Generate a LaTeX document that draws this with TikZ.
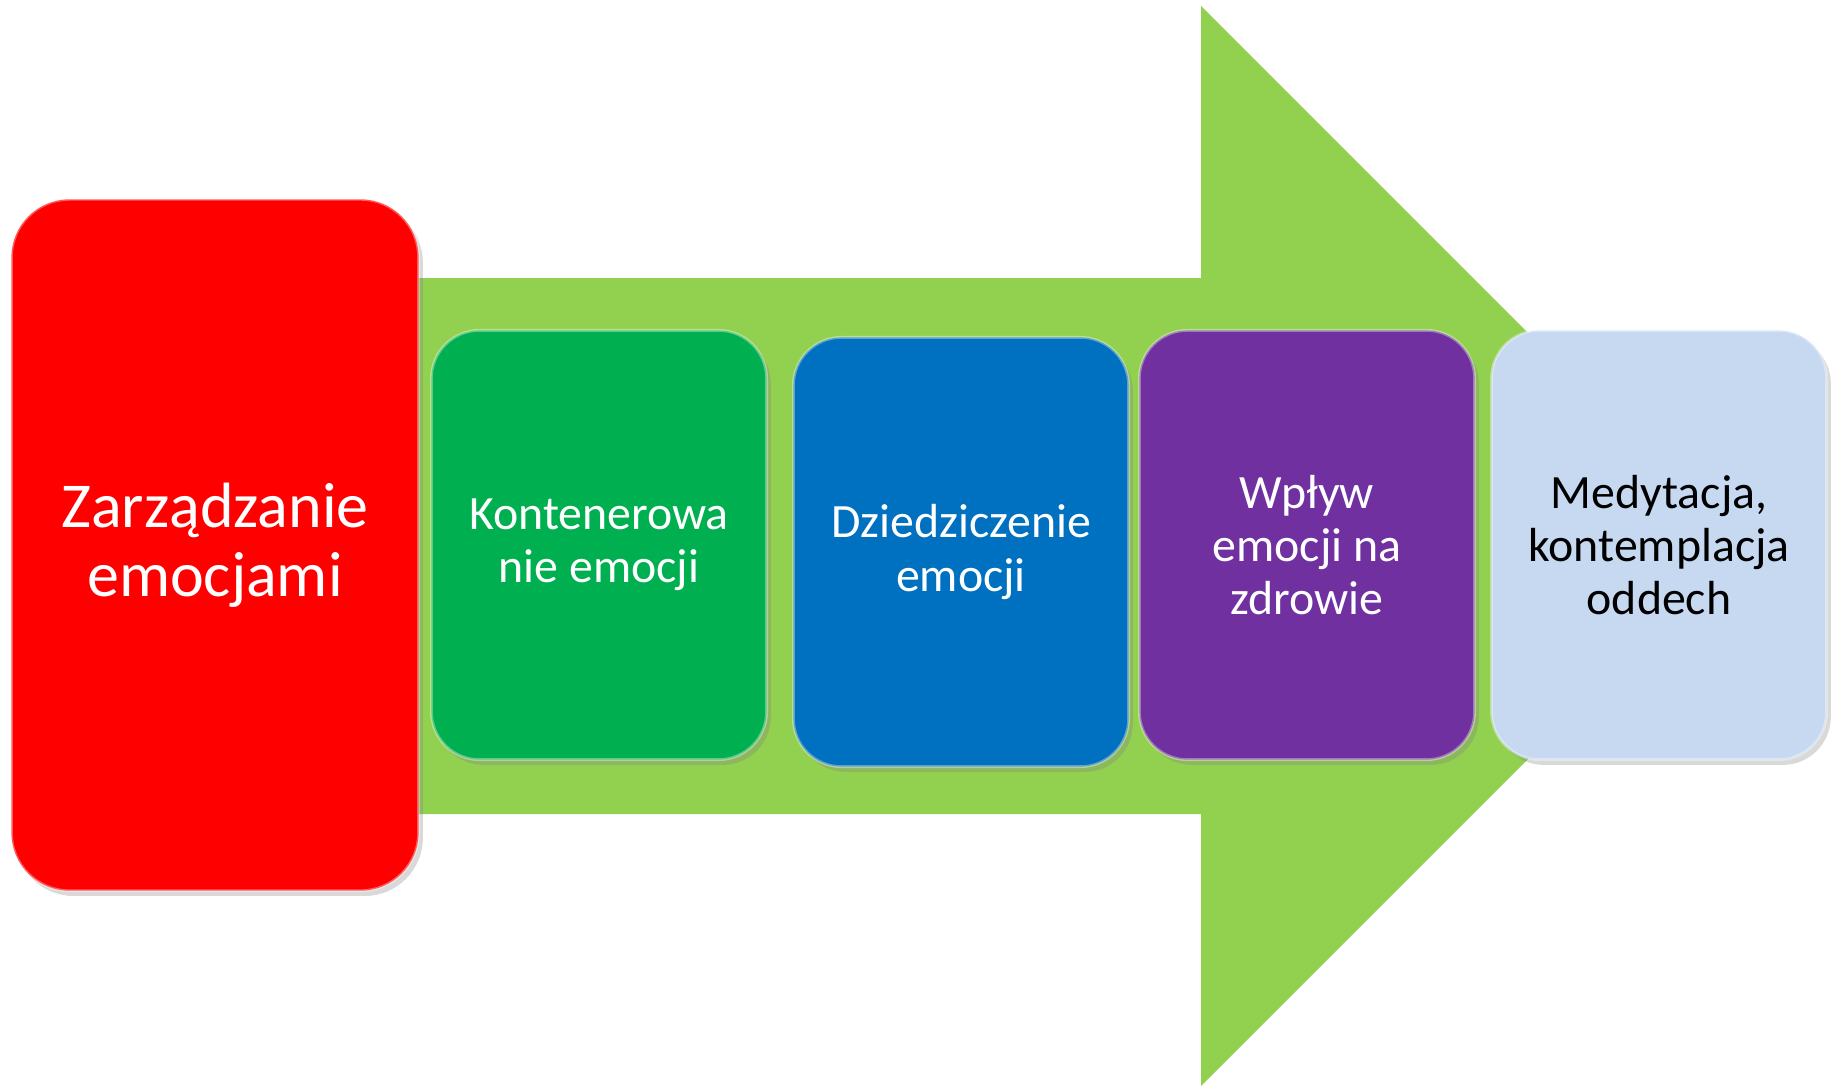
\documentclass[tikz,border=0pt]{standalone}
\usepackage{fontspec}
\setmainfont{Carlito}
\usetikzlibrary{shadows}
\definecolor{pfeilgruen}{HTML}{92D050}
\definecolor{rot}{HTML}{FF0000}
\definecolor{gruen}{HTML}{00B050}
\definecolor{blau}{HTML}{0070C0}
\definecolor{lila}{HTML}{7030A0}
\definecolor{hellblau}{HTML}{C6D9F1}

\begin{document}
\begin{tikzpicture}[x=0.01cm,y=-0.01cm,
    kasten/.style={rounded corners=0.48cm, inner sep=0pt, align=center,
        minimum width=3.35cm, minimum height=4.29cm, text=white,
        font=\fontsize{13.6}{15.2}\selectfont,
        draw=white, draw opacity=0.35, line width=0.8pt,
        drop shadow={opacity=0.3, shadow xshift=1.2pt, shadow yshift=-1.5pt}}]
    \useasboundingbox (0,0) rectangle (1837,1087);
    % grosser Pfeil im Hintergrund
    \fill[pfeilgruen](380,278)--(1201,278)--(1201,6)--(1741,546)--(1201,1086)--(1201,814)--(380,814)--cycle;
    \node[kasten, fill=rot, minimum width=4.07cm, minimum height=6.91cm, rounded corners=0.58cm,
        font=\fontsize{18.2}{19.6}\selectfont](zarz) at (215,545){Zarządzanie\\emocjami};
    \node[kasten, fill=gruen](kont) at (599,545){Kontenerowa\\nie emocji};
    \node[kasten, fill=blau](dzie) at (961,552){Dziedziczenie\\emocji};
    \node[kasten, fill=lila](wplyw) at (1307,545){Wpływ\\emocji na\\zdrowie};
    \node[kasten, fill=hellblau, text=black](medy) at (1659,545){Medytacja,\\kontemplacja\\oddech};
\end{tikzpicture}
\end{document}
